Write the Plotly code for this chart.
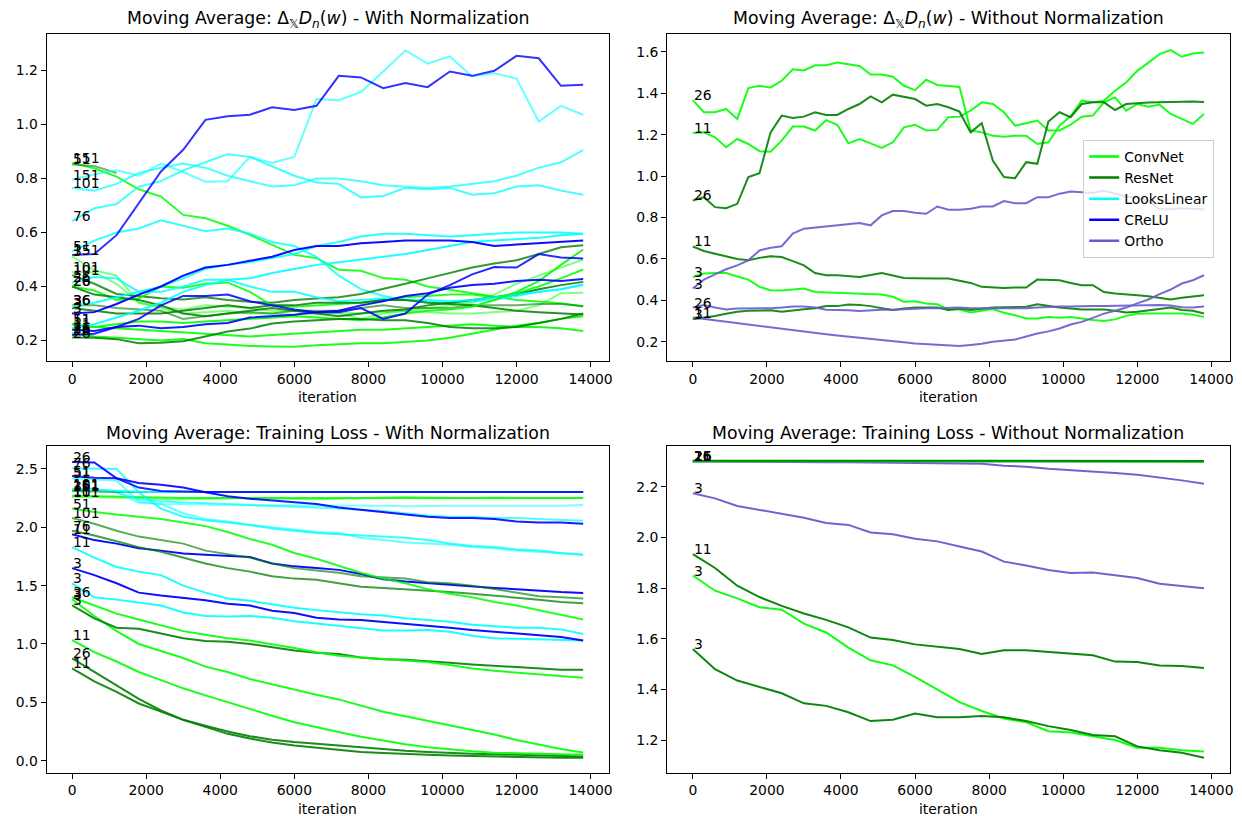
import plotly.graph_objects as go

# ---------------------------------------------------------------------------
# Data: moving averages sampled every 600 iterations (300 for the
# un-normalized Delta panel, which is more jagged)
# ---------------------------------------------------------------------------
iterations = [0, 600, 1200, 1800, 2400, 3000, 3600, 4200, 4800, 5400, 6000, 6600,
              7200, 7800, 8400, 9000, 9600, 10200, 10800, 11400, 12000, 12600, 13200, 13800]
iterations_fine = [0, 300, 600, 900, 1200, 1500, 1800, 2100, 2400, 2700, 3000, 3300,
                   3600, 3900, 4200, 4500, 4800, 5100, 5400, 5700, 6000, 6300, 6600, 6900,
                   7200, 7500, 7800, 8100, 8400, 8700, 9000, 9300, 9600, 9900, 10200, 10500,
                   10800, 11100, 11400, 11700, 12000, 12300, 12600, 12900, 13200, 13500, 13800]

# --- Delta D_n(w), with normalization -------------------------------------
tl_01 = [0.517, 0.52, 0.59, 0.71, 0.826, 0.906, 1.017, 1.03, 1.036, 1.064, 1.054, 1.069,
         1.18, 1.174, 1.134, 1.153, 1.138, 1.196, 1.18, 1.199, 1.254, 1.245, 1.143, 1.147]
tl_02 = [0.796, 0.815, 0.83, 0.81, 0.855, 0.824, 0.788, 0.79, 0.88, 0.857, 0.88, 1.094,
         1.09, 1.12, 1.196, 1.274, 1.225, 1.252, 1.178, 1.19, 1.17, 1.011, 1.069, 1.036]
tl_03 = [0.642, 0.69, 0.705, 0.77, 0.79, 0.83, 0.86, 0.89, 0.88, 0.845, 0.81, 0.785,
         0.78, 0.73, 0.735, 0.765, 0.76, 0.765, 0.74, 0.745, 0.77, 0.775, 0.755, 0.74]
tl_04 = [0.765, 0.755, 0.78, 0.82, 0.84, 0.855, 0.84, 0.81, 0.79, 0.77, 0.775, 0.80,
         0.80, 0.79, 0.775, 0.77, 0.765, 0.77, 0.78, 0.79, 0.81, 0.84, 0.86, 0.905]
tl_05 = [0.852, 0.846, 0.82]
tl_06 = [0.857, 0.838, 0.807, 0.76, 0.733, 0.665, 0.653, 0.625, 0.591, 0.554, 0.517, 0.505,
         0.462, 0.458, 0.431, 0.425, 0.40, 0.388, 0.375, 0.363, 0.35, 0.344, 0.338, 0.326]
tl_07 = [0.53, 0.57, 0.60, 0.615, 0.645, 0.625, 0.605, 0.615, 0.595, 0.565, 0.55, 0.51,
         0.44, 0.39, 0.365, 0.35, 0.345, 0.34, 0.345, 0.35, 0.365, 0.38, 0.39, 0.405]
tl_08 = [0.30, 0.305, 0.335, 0.37, 0.40, 0.44, 0.47, 0.48, 0.495, 0.51, 0.535, 0.55,
         0.55, 0.56, 0.565, 0.57, 0.57, 0.57, 0.565, 0.55, 0.555, 0.56, 0.565, 0.57]
tl_09 = [0.33, 0.34, 0.36, 0.38, 0.40, 0.43, 0.465, 0.48, 0.49, 0.505, 0.52, 0.55,
         0.565, 0.585, 0.595, 0.595, 0.59, 0.585, 0.59, 0.595, 0.60, 0.60, 0.60, 0.595]
tl_10 = [0.245, 0.26, 0.285, 0.31, 0.34, 0.38, 0.405, 0.425, 0.43, 0.45, 0.465, 0.48,
         0.49, 0.50, 0.51, 0.52, 0.535, 0.55, 0.565, 0.57, 0.575, 0.58, 0.59, 0.595]
tl_11 = [0.415, 0.435, 0.43, 0.38, 0.38, 0.40, 0.425, 0.425, 0.40, 0.38, 0.38, 0.36,
         0.345, 0.35, 0.355, 0.35, 0.35, 0.345, 0.35, 0.36, 0.37, 0.38, 0.39, 0.407]
tl_12 = [0.24, 0.235, 0.25, 0.255, 0.245, 0.25, 0.26, 0.265, 0.285, 0.29, 0.295, 0.305,
         0.31, 0.33, 0.345, 0.365, 0.375, 0.395, 0.405, 0.41, 0.42, 0.425, 0.42, 0.428]
tl_13 = [0.22, 0.225, 0.25, 0.28, 0.33, 0.365, 0.365, 0.37, 0.345, 0.33, 0.315, 0.305,
         0.305, 0.32, 0.28, 0.30, 0.37, 0.405, 0.445, 0.472, 0.47, 0.52, 0.507, 0.504]
tl_14 = [0.442, 0.41, 0.372, 0.365, 0.356, 0.352, 0.36, 0.35, 0.343, 0.34, 0.35, 0.355,
         0.36, 0.372, 0.39, 0.41, 0.43, 0.45, 0.47, 0.485, 0.497, 0.52, 0.545, 0.553]
tl_15 = [0.26, 0.25, 0.26, 0.27, 0.27, 0.265, 0.27, 0.275, 0.28, 0.285, 0.29, 0.285,
         0.28, 0.275, 0.285, 0.30, 0.31, 0.315, 0.325, 0.35, 0.38, 0.42, 0.48, 0.537]
tl_16 = [0.512, 0.46, 0.44, 0.34, 0.325, 0.315, 0.33, 0.325, 0.32, 0.31, 0.31, 0.305,
         0.30, 0.28, 0.30, 0.31, 0.32, 0.33, 0.34, 0.37, 0.41, 0.44, 0.47, 0.50]
tl_17 = [0.40, 0.385, 0.35, 0.355, 0.40, 0.395, 0.41, 0.415, 0.38, 0.33, 0.325, 0.33,
         0.335, 0.34, 0.35, 0.36, 0.365, 0.37, 0.37, 0.36, 0.375, 0.40, 0.43, 0.463]
tl_18 = [0.40, 0.37, 0.36, 0.35, 0.33, 0.30, 0.29, 0.30, 0.31, 0.32, 0.31, 0.30,
         0.29, 0.30, 0.31, 0.315, 0.33, 0.34, 0.35, 0.36, 0.37, 0.39, 0.405, 0.417]
tl_19 = [0.454, 0.452, 0.41, 0.34, 0.32, 0.30, 0.305, 0.31, 0.30, 0.30, 0.295, 0.30,
         0.305, 0.30, 0.305, 0.31, 0.305, 0.30, 0.30, 0.305, 0.31, 0.33, 0.375, 0.377]
tl_20 = [0.33, 0.33, 0.32, 0.315, 0.31, 0.28, 0.29, 0.30, 0.305, 0.30, 0.31, 0.31,
         0.31, 0.32, 0.33, 0.32, 0.32, 0.32, 0.33, 0.33, 0.33, 0.335, 0.335, 0.328]
tl_21 = [0.32, 0.31, 0.30, 0.30, 0.30, 0.31, 0.32, 0.33, 0.32, 0.33, 0.33, 0.34,
         0.34, 0.34, 0.35, 0.35, 0.34, 0.335, 0.33, 0.32, 0.31, 0.305, 0.30, 0.296]
tl_22 = [0.211, 0.21, 0.205, 0.19, 0.192, 0.197, 0.215, 0.233, 0.244, 0.263, 0.27, 0.275,
         0.28, 0.28, 0.275, 0.275, 0.265, 0.25, 0.245, 0.245, 0.25, 0.265, 0.28, 0.30]
tl_23 = [0.227, 0.215, 0.21, 0.205, 0.20, 0.205, 0.19, 0.185, 0.18, 0.178, 0.177, 0.182,
         0.185, 0.19, 0.19, 0.195, 0.20, 0.21, 0.225, 0.24, 0.255, 0.265, 0.28, 0.29]
tl_24 = [0.26, 0.25, 0.245, 0.24, 0.235, 0.23, 0.225, 0.22, 0.215, 0.22, 0.225, 0.23,
         0.235, 0.24, 0.24, 0.245, 0.25, 0.255, 0.26, 0.255, 0.25, 0.25, 0.245, 0.235]

# --- Delta D_n(w), without normalization (300-iteration sampling) ----------
tr_convnet_26 = [1.367, 1.308, 1.308, 1.324, 1.276, 1.425, 1.436, 1.428, 1.46, 1.516, 1.51, 1.535,
                 1.535, 1.548, 1.54, 1.532, 1.49, 1.49, 1.48, 1.436, 1.415, 1.465, 1.44, 1.436,
                 1.43, 1.22, 1.211, 1.195, 1.19, 1.195, 1.195, 1.155, 1.163, 1.243, 1.29, 1.364,
                 1.356, 1.364, 1.412, 1.452, 1.508, 1.548, 1.589, 1.608, 1.576, 1.592, 1.597]
tr_convnet_11 = [1.208, 1.211, 1.187, 1.139, 1.179, 1.155, 1.12, 1.118, 1.171, 1.239, 1.239, 1.22,
                 1.27, 1.248, 1.158, 1.179, 1.158, 1.136, 1.163, 1.235, 1.248, 1.22, 1.223, 1.284,
                 1.287, 1.316, 1.356, 1.348, 1.308, 1.243, 1.255, 1.268, 1.22, 1.22, 1.248, 1.287,
                 1.292, 1.356, 1.38, 1.316, 1.348, 1.335, 1.345, 1.30, 1.276, 1.252, 1.30]
tr_resnet_26 = [0.882, 0.898, 0.85, 0.845, 0.866, 0.995, 1.014, 1.211, 1.292, 1.28, 1.287, 1.308,
                1.295, 1.295, 1.324, 1.348, 1.385, 1.356, 1.393, 1.383, 1.372, 1.34, 1.348, 1.332,
                1.311, 1.211, 1.255, 1.075, 0.995, 0.99, 1.067, 1.059, 1.263, 1.308, 1.284, 1.348,
                1.356, 1.356, 1.319, 1.348, 1.353, 1.355, 1.356, 1.358, 1.36, 1.36, 1.358]
tr_resnet_11 = [0.66, 0.638, 0.625, 0.613, 0.60, 0.593, 0.605, 0.613, 0.609, 0.589, 0.569, 0.532,
                0.521, 0.521, 0.516, 0.513, 0.522, 0.532, 0.52, 0.508, 0.507, 0.505, 0.505, 0.505,
                0.495, 0.484, 0.465, 0.462, 0.46, 0.462, 0.462, 0.50, 0.498, 0.497, 0.484, 0.473,
                0.473, 0.44, 0.433, 0.43, 0.425, 0.42, 0.412, 0.404, 0.412, 0.42, 0.425]
tr_convnet_3 = [0.513, 0.529, 0.532, 0.532, 0.515, 0.50, 0.465, 0.449, 0.448, 0.452, 0.457, 0.44,
                0.438, 0.436, 0.434, 0.433, 0.43, 0.428, 0.417, 0.393, 0.396, 0.385, 0.381, 0.356,
                0.356, 0.341, 0.35, 0.358, 0.34, 0.328, 0.312, 0.312, 0.32, 0.316, 0.32, 0.312,
                0.305, 0.30, 0.308, 0.325, 0.335, 0.336, 0.336, 0.336, 0.336, 0.33, 0.32]
tr_ortho_3 = [0.457, 0.50, 0.525, 0.55, 0.569, 0.593, 0.641, 0.654, 0.661, 0.722, 0.746, 0.751,
              0.757, 0.762, 0.768, 0.773, 0.762, 0.81, 0.831, 0.831, 0.823, 0.818, 0.853, 0.837,
              0.837, 0.842, 0.853, 0.853, 0.879, 0.869, 0.869, 0.898, 0.898, 0.915, 0.925, 0.92,
              0.918, 0.93, 0.915, 0.90, 0.895, 0.88, 0.84, 0.84, 0.845, 0.842, 0.84]
tr_ortho_26 = [0.365, 0.377, 0.365, 0.356, 0.36, 0.36, 0.362, 0.362, 0.365, 0.37, 0.37, 0.365,
               0.355, 0.355, 0.352, 0.348, 0.352, 0.355, 0.355, 0.358, 0.36, 0.362, 0.362, 0.365,
               0.365, 0.362, 0.362, 0.36, 0.36, 0.362, 0.362, 0.365, 0.368, 0.37, 0.37, 0.372,
               0.372, 0.372, 0.373, 0.375, 0.375, 0.375, 0.377, 0.375, 0.367, 0.365, 0.37]
tr_resnet_3 = [0.309, 0.315, 0.324, 0.335, 0.345, 0.35, 0.35, 0.352, 0.345, 0.352, 0.357, 0.362,
               0.372, 0.372, 0.38, 0.378, 0.372, 0.362, 0.353, 0.36, 0.365, 0.365, 0.365, 0.353,
               0.36, 0.353, 0.36, 0.365, 0.367, 0.369, 0.369, 0.381, 0.372, 0.365, 0.36, 0.356,
               0.356, 0.356, 0.35, 0.341, 0.345, 0.353, 0.358, 0.365, 0.353, 0.35, 0.336]
tr_ortho_11 = [0.317, 0.31, 0.304, 0.298, 0.292, 0.284, 0.276, 0.27, 0.264, 0.256, 0.248, 0.242,
               0.236, 0.23, 0.225, 0.22, 0.216, 0.21, 0.204, 0.198, 0.192, 0.188, 0.184, 0.18,
               0.179, 0.184, 0.19, 0.20, 0.205, 0.211, 0.225, 0.24, 0.25, 0.264, 0.283, 0.296,
               0.315, 0.336, 0.35, 0.365, 0.385, 0.404, 0.43, 0.452, 0.481, 0.497, 0.521]

# --- Training loss, with normalization -------------------------------------
bl_01 = [2.56, 2.555, 2.42, 2.38, 2.365, 2.34, 2.30, 2.265, 2.245, 2.23, 2.21, 2.20,
         2.17, 2.15, 2.13, 2.11, 2.09, 2.08, 2.08, 2.07, 2.05, 2.04, 2.04, 2.03]
bl_02 = [2.505, 2.50, 2.50, 2.30, 2.16, 2.09, 2.06, 2.04, 2.02, 1.99, 1.97, 1.95,
         1.94, 1.93, 1.92, 1.91, 1.89, 1.86, 1.84, 1.83, 1.81, 1.80, 1.78, 1.765]
bl_03 = [2.44, 2.425, 2.42, 2.34, 2.31, 2.305, 2.302, 2.302, 2.302, 2.302, 2.302, 2.302,
         2.302, 2.302, 2.302, 2.302, 2.302, 2.302, 2.302, 2.302, 2.302, 2.302, 2.302, 2.302]
bl_04 = [2.42, 2.41, 2.40, 2.22, 2.20, 2.12, 2.07, 2.05, 2.02, 2.00, 1.98, 1.96,
         1.95, 1.91, 1.89, 1.87, 1.86, 1.85, 1.83, 1.82, 1.80, 1.79, 1.78, 1.765]
bl_05 = [2.33, 2.32, 2.31, 2.305, 2.303, 2.302, 2.302, 2.302, 2.302, 2.302, 2.302, 2.302,
         2.302, 2.302, 2.302, 2.302, 2.302, 2.302, 2.302, 2.302, 2.302, 2.302, 2.302, 2.302]
bl_06 = [2.32, 2.33, 2.30, 2.24, 2.22, 2.215, 2.21, 2.20, 2.19, 2.185, 2.18, 2.17,
         2.16, 2.15, 2.14, 2.12, 2.10, 2.09, 2.09, 2.08, 2.08, 2.07, 2.06, 2.055]
bl_07 = [2.31, 2.31, 2.30, 2.21, 2.20, 2.20, 2.195, 2.19, 2.19, 2.19, 2.19, 2.19,
         2.185, 2.185, 2.185, 2.18, 2.185, 2.185, 2.185, 2.185, 2.18, 2.18, 2.185, 2.19]
bl_08 = [2.27, 2.265, 2.26, 2.255, 2.255, 2.25, 2.25, 2.25, 2.25, 2.25, 2.25, 2.25,
         2.25, 2.25, 2.25, 2.25, 2.25, 2.25, 2.25, 2.25, 2.25, 2.25, 2.25, 2.25]
bl_09 = [2.26, 2.26, 2.255, 2.25, 2.24, 2.24, 2.245, 2.25, 2.25, 2.245, 2.24, 2.24,
         2.245, 2.25, 2.255, 2.26, 2.255, 2.25, 2.25, 2.255, 2.25, 2.25, 2.25, 2.25]
bl_10 = [2.31, 2.305, 2.303, 2.302, 2.302, 2.302, 2.302, 2.302, 2.302, 2.302, 2.302, 2.302,
         2.302, 2.302, 2.302, 2.302, 2.302, 2.302, 2.302, 2.302, 2.302, 2.302, 2.302, 2.302]
bl_11 = [2.16, 2.13, 2.11, 2.09, 2.07, 2.04, 2.01, 1.96, 1.90, 1.85, 1.78, 1.73,
         1.67, 1.61, 1.56, 1.52, 1.47, 1.43, 1.40, 1.36, 1.33, 1.29, 1.25, 1.21]
bl_12 = [2.08, 2.03, 1.97, 1.92, 1.89, 1.86, 1.80, 1.77, 1.74, 1.69, 1.65, 1.63,
         1.61, 1.58, 1.57, 1.56, 1.53, 1.52, 1.50, 1.47, 1.44, 1.41, 1.40, 1.39]
bl_13 = [1.97, 1.93, 1.88, 1.83, 1.79, 1.74, 1.69, 1.65, 1.62, 1.58, 1.56, 1.55,
         1.52, 1.49, 1.48, 1.47, 1.455, 1.445, 1.43, 1.415, 1.40, 1.38, 1.36, 1.35]
bl_14 = [1.94, 1.89, 1.86, 1.82, 1.80, 1.775, 1.765, 1.755, 1.745, 1.69, 1.665, 1.65,
         1.635, 1.60, 1.555, 1.535, 1.52, 1.505, 1.495, 1.48, 1.47, 1.455, 1.445, 1.437]
bl_15 = [1.83, 1.74, 1.66, 1.62, 1.59, 1.50, 1.44, 1.39, 1.37, 1.34, 1.31, 1.29,
         1.27, 1.255, 1.245, 1.22, 1.205, 1.19, 1.165, 1.15, 1.14, 1.14, 1.125, 1.085]
bl_16 = [1.65, 1.59, 1.52, 1.44, 1.415, 1.395, 1.375, 1.345, 1.33, 1.285, 1.265, 1.225,
         1.21, 1.205, 1.19, 1.175, 1.155, 1.14, 1.12, 1.105, 1.095, 1.075, 1.06, 1.03]
bl_17 = [1.52, 1.40, 1.38, 1.355, 1.33, 1.27, 1.24, 1.235, 1.24, 1.225, 1.195, 1.175,
         1.155, 1.13, 1.115, 1.115, 1.12, 1.105, 1.07, 1.05, 1.045, 1.04, 1.04, 1.03]
bl_18 = [1.40, 1.33, 1.26, 1.21, 1.16, 1.11, 1.08, 1.05, 1.03, 1.00, 0.965, 0.93,
         0.90, 0.885, 0.87, 0.86, 0.845, 0.82, 0.79, 0.77, 0.755, 0.74, 0.73, 0.71]
bl_19 = [1.33, 1.22, 1.14, 1.13, 1.09, 1.05, 1.025, 1.02, 1.00, 0.97, 0.945, 0.925,
         0.915, 0.885, 0.87, 0.865, 0.855, 0.84, 0.825, 0.815, 0.80, 0.79, 0.78, 0.78]
bl_20 = [1.383, 1.24, 1.11, 1.00, 0.94, 0.88, 0.806, 0.76, 0.70, 0.655, 0.606, 0.565,
         0.525, 0.475, 0.42, 0.38, 0.34, 0.30, 0.265, 0.225, 0.177, 0.14, 0.10, 0.071]
bl_21 = [1.034, 0.93, 0.85, 0.76, 0.69, 0.62, 0.56, 0.50, 0.44, 0.385, 0.33, 0.285,
         0.245, 0.205, 0.17, 0.14, 0.115, 0.095, 0.08, 0.068, 0.063, 0.06, 0.055, 0.05]
bl_22 = [0.877, 0.76, 0.64, 0.53, 0.43, 0.35, 0.30, 0.25, 0.21, 0.18, 0.16, 0.145,
         0.125, 0.11, 0.095, 0.085, 0.075, 0.065, 0.06, 0.055, 0.05, 0.045, 0.04, 0.035]
bl_23 = [0.79, 0.68, 0.59, 0.49, 0.42, 0.35, 0.29, 0.23, 0.19, 0.155, 0.13, 0.11,
         0.09, 0.075, 0.065, 0.055, 0.05, 0.045, 0.04, 0.035, 0.03, 0.03, 0.025, 0.025]

# --- Training loss, without normalization ----------------------------------
br_convnet_26 = [2.303, 2.303, 2.303, 2.303, 2.302, 2.302, 2.302, 2.302, 2.302, 2.302, 2.302, 2.302,
                 2.302, 2.302, 2.302, 2.302, 2.302, 2.302, 2.302, 2.302, 2.302, 2.302, 2.302, 2.302]
br_convnet_11 = [2.302, 2.302, 2.302, 2.302, 2.302, 2.301, 2.301, 2.301, 2.301, 2.301, 2.301, 2.301,
                 2.301, 2.301, 2.301, 2.301, 2.301, 2.301, 2.301, 2.301, 2.301, 2.301, 2.301, 2.301]
br_ortho_26 = [2.301, 2.301, 2.301, 2.300, 2.300, 2.300, 2.300, 2.300, 2.300, 2.300, 2.300, 2.300,
               2.300, 2.300, 2.300, 2.300, 2.300, 2.300, 2.300, 2.300, 2.300, 2.300, 2.300, 2.300]
br_resnet_26 = [2.304, 2.304, 2.303, 2.303, 2.303, 2.303, 2.303, 2.303, 2.303, 2.303, 2.303, 2.303,
                2.303, 2.303, 2.303, 2.303, 2.303, 2.303, 2.303, 2.303, 2.303, 2.303, 2.303, 2.303]
br_ortho_11 = [2.302, 2.301, 2.300, 2.300, 2.299, 2.299, 2.298, 2.298, 2.297, 2.297, 2.296, 2.296,
               2.294, 2.292, 2.284, 2.280, 2.272, 2.267, 2.261, 2.255, 2.248, 2.238, 2.226, 2.213]
br_ortho_3 = [2.175, 2.155, 2.125, 2.11, 2.095, 2.078, 2.058, 2.05, 2.02, 2.013, 1.995, 1.985,
              1.965, 1.945, 1.905, 1.89, 1.872, 1.86, 1.862, 1.852, 1.84, 1.818, 1.81, 1.80]
br_resnet_11 = [1.935, 1.88, 1.81, 1.765, 1.73, 1.70, 1.675, 1.645, 1.605, 1.595, 1.578, 1.57,
                1.56, 1.54, 1.555, 1.555, 1.548, 1.54, 1.535, 1.51, 1.508, 1.495, 1.493, 1.485]
br_convnet_3 = [1.85, 1.79, 1.76, 1.725, 1.715, 1.66, 1.625, 1.565, 1.515, 1.495, 1.45, 1.40,
                1.35, 1.315, 1.285, 1.27, 1.235, 1.23, 1.215, 1.20, 1.17, 1.17, 1.16, 1.155]
br_resnet_3 = [1.56, 1.48, 1.435, 1.41, 1.385, 1.345, 1.335, 1.31, 1.275, 1.28, 1.305, 1.29,
               1.29, 1.295, 1.29, 1.275, 1.255, 1.24, 1.22, 1.215, 1.175, 1.16, 1.15, 1.13]

# Each entry: (architecture, depth label, line alpha, values)
TL_SERIES = [
    ("ConvNet", "151", 0.85, tl_06), ("ResNet", "51", 0.55, tl_05),
    ("LooksLinear", "151", 0.6, tl_02), ("LooksLinear", "101", 0.7, tl_04),
    ("LooksLinear", "76", 0.75, tl_03), ("ConvNet", "3", 0.5, tl_16),
    ("LooksLinear", "51", 0.8, tl_07), ("ConvNet", "101", 0.5, tl_19),
    ("ResNet", "101", 0.8, tl_14), ("ConvNet", "26", 0.85, tl_17),
    ("ResNet", "26", 0.85, tl_18), ("LooksLinear", "26", 0.85, tl_11),
    ("ResNet", "36", 0.6, tl_20), ("ResNet", "3", 0.85, tl_21),
    ("ConvNet", "11", 0.9, tl_15), ("ConvNet", "51", 0.9, tl_24),
    ("ConvNet", "26", 0.9, tl_23), ("ResNet", "26", 0.85, tl_22),
    ("LooksLinear", "36", 0.85, tl_09), ("LooksLinear", "11", 0.9, tl_10),
    ("CReLU", "3", 0.95, tl_08), ("CReLU", "11", 0.9, tl_12),
    ("CReLU", "26", 0.85, tl_13), ("CReLU", "151", 0.8, tl_01),
]
TR_SERIES = [
    ("ConvNet", "26", 0.9, tr_convnet_26), ("ConvNet", "11", 0.9, tr_convnet_11),
    ("ConvNet", "3", 0.9, tr_convnet_3), ("ResNet", "26", 0.9, tr_resnet_26),
    ("ResNet", "11", 0.9, tr_resnet_11), ("ResNet", "3", 0.9, tr_resnet_3),
    ("Ortho", "3", 0.9, tr_ortho_3), ("Ortho", "26", 0.9, tr_ortho_26),
    ("Ortho", "11", 0.9, tr_ortho_11),
]
BL_SERIES = [
    ("ResNet", "26", 0.9, bl_22), ("ResNet", "11", 0.9, bl_23),
    ("ConvNet", "11", 0.9, bl_21), ("ConvNet", "3", 0.9, bl_20),
    ("ResNet", "3", 0.9, bl_19), ("ConvNet", "36", 0.9, bl_18),
    ("LooksLinear", "3", 0.9, bl_17), ("CReLU", "3", 0.95, bl_16),
    ("LooksLinear", "11", 0.9, bl_15), ("CReLU", "11", 0.95, bl_14),
    ("ResNet", "76", 0.75, bl_13), ("ResNet", "101", 0.65, bl_12),
    ("ConvNet", "51", 0.85, bl_11), ("ConvNet", "101", 0.5, bl_09),
    ("ConvNet", "11", 0.85, bl_08), ("LooksLinear", "36", 0.5, bl_07),
    ("LooksLinear", "151", 0.7, bl_06), ("LooksLinear", "51", 0.6, bl_04),
    ("LooksLinear", "76", 0.8, bl_02), ("ResNet", "151", 0.55, bl_10),
    ("LooksLinear", "101", 0.85, bl_05), ("CReLU", "51", 0.85, bl_03),
    ("CReLU", "26", 0.9, bl_01),
]
BR_SERIES = [
    ("ConvNet", "3", 0.95, br_convnet_3), ("ResNet", "3", 0.95, br_resnet_3),
    ("ResNet", "11", 0.95, br_resnet_11), ("Ortho", "3", 0.95, br_ortho_3),
    ("Ortho", "11", 0.95, br_ortho_11), ("Ortho", "26", 0.95, br_ortho_26),
    ("ConvNet", "11", 0.95, br_convnet_11), ("ConvNet", "26", 0.95, br_convnet_26),
    ("ResNet", "26", 0.95, br_resnet_26),
]

ARCHS = ["ConvNet", "ResNet", "LooksLinear", "CReLU", "Ortho"]
ARCH_RGB = {
    "ConvNet": (0, 255, 0),
    "ResNet": (0, 128, 0),
    "LooksLinear": (0, 255, 255),
    "CReLU": (0, 0, 255),
    "Ortho": (106, 90, 205),
}

DELTA = "Δ<sub>𝕏</sub><i>D</i><sub><i>n</i></sub>(<i>w</i>)"
TITLES = [
    "Moving Average: " + DELTA + " - With Normalization",
    "Moving Average: " + DELTA + " - Without Normalization",
    "Moving Average: Training Loss - With Normalization",
    "Moving Average: Training Loss - Without Normalization",
]

# ---------------------------------------------------------------------------
# Layout geometry (pixels)
# ---------------------------------------------------------------------------
W, H = 1242, 816
FONT = "DejaVu Sans"
TICK_PX = 13.9
TITLE_PX = 17.3

X_LEFT = (46.7, 610.7)
X_RIGHT = (669.4, 1233.5)
Y_TOP = (34.0, 361.0)
Y_BOTTOM = (445.7, 772.7)

PANELS = [
    dict(ax="", xpx=X_LEFT, ypx=Y_TOP, yrange=[0.124, 1.335], x=iterations,
         yticks=[0.2, 0.4, 0.6, 0.8, 1.0, 1.2], fmt="{:.1f}", series=TL_SERIES),
    dict(ax="2", xpx=X_RIGHT, ypx=Y_TOP, yrange=[0.107, 1.686], x=iterations_fine,
         yticks=[0.2, 0.4, 0.6, 0.8, 1.0, 1.2, 1.4, 1.6], fmt="{:.1f}", series=TR_SERIES),
    dict(ax="3", xpx=X_LEFT, ypx=Y_BOTTOM, yrange=[-0.103, 2.699], x=iterations,
         yticks=[0.0, 0.5, 1.0, 1.5, 2.0, 2.5], fmt="{:.1f}", series=BL_SERIES),
    dict(ax="4", xpx=X_RIGHT, ypx=Y_BOTTOM, yrange=[1.071, 2.363], x=iterations,
         yticks=[1.2, 1.4, 1.6, 1.8, 2.0, 2.2], fmt="{:.1f}", series=BR_SERIES),
]
XTICKS = [0, 2000, 4000, 6000, 8000, 10000, 12000, 14000]


def rgba(arch, alpha):
    r, g, b = ARCH_RGB[arch]
    return f"rgba({r},{g},{b},{alpha})"


fig = go.Figure()
annotations = []
layout_axes = {}

for i, p in enumerate(PANELS):
    xa, ya = "x" + p["ax"], "y" + p["ax"]
    x0, x1 = p["xpx"]
    y0, y1 = p["ypx"]
    common = dict(
        showline=True, mirror=True, linecolor="black", linewidth=1,
        ticks="outside", ticklen=5, tickwidth=1, tickcolor="black",
        showgrid=False, zeroline=False,
        tickfont=dict(family=FONT, size=TICK_PX, color="black"),
    )
    layout_axes["xaxis" + p["ax"]] = dict(
        common, domain=[x0 / W, x1 / W], range=[-690, 14490], anchor=ya,
        tickvals=XTICKS, ticktext=[str(v) for v in XTICKS],
    )
    layout_axes["yaxis" + p["ax"]] = dict(
        common, domain=[1 - y1 / H, 1 - y0 / H], range=p["yrange"], anchor=xa,
        tickvals=p["yticks"], ticktext=[p["fmt"].format(v) for v in p["yticks"]],
    )

    for arch, depth, alpha, vals in p["series"]:
        fig.add_trace(go.Scatter(
            x=p["x"][:len(vals)], y=vals, mode="lines",
            line=dict(color=rgba(arch, alpha), width=2),
            xaxis=xa, yaxis=ya, showlegend=False, hoverinfo="skip",
        ))
        annotations.append(dict(
            x=0, y=vals[0], xref=xa, yref=ya, text=depth, showarrow=False,
            xanchor="left", yanchor="bottom", borderpad=0, yshift=-4,
            font=dict(family=FONT, size=TICK_PX, color="black"),
        ))

    # panel title
    annotations.append(dict(
        x=(x0 + x1) / 2 / W, y=1 - y0 / H, xref="paper", yref="paper",
        text=TITLES[i], showarrow=False, xanchor="center", yanchor="bottom",
        yshift=1, font=dict(family=FONT, size=TITLE_PX, color="black"),
    ))
    # x-axis label
    annotations.append(dict(
        x=(x0 + x1) / 2 / W, y=1 - (y1 + 36) / H, xref="paper", yref="paper",
        text="iteration", showarrow=False, xanchor="center", yanchor="middle",
        font=dict(family=FONT, size=TICK_PX, color="black"),
    ))

# legend entries (shown in the upper-right panel)
for arch in ARCHS:
    fig.add_trace(go.Scatter(
        x=[None], y=[None], mode="lines", name=arch,
        line=dict(color=rgba(arch, 1.0), width=2.5),
        xaxis="x2", yaxis="y2", showlegend=True, legendgroup=arch,
    ))

fig.update_layout(
    width=W, height=H, autosize=False,
    margin=dict(l=0, r=0, t=0, b=0),
    paper_bgcolor="white", plot_bgcolor="white",
    font=dict(family=FONT, size=TICK_PX, color="black"),
    annotations=annotations,
    showlegend=True,
    legend=dict(
        x=1086.7 / W, y=1 - 140.0 / H, xanchor="left", yanchor="top",
        bgcolor="rgba(255,255,255,0.8)", bordercolor="#cccccc", borderwidth=1,
        font=dict(family=FONT, size=TICK_PX, color="black"),
        itemwidth=30, traceorder="grouped", tracegroupgap=0,
    ),
    hovermode=False,
    **layout_axes,
)

fig.write_html("out.html", include_plotlyjs=True, config={"displayModeBar": False})
